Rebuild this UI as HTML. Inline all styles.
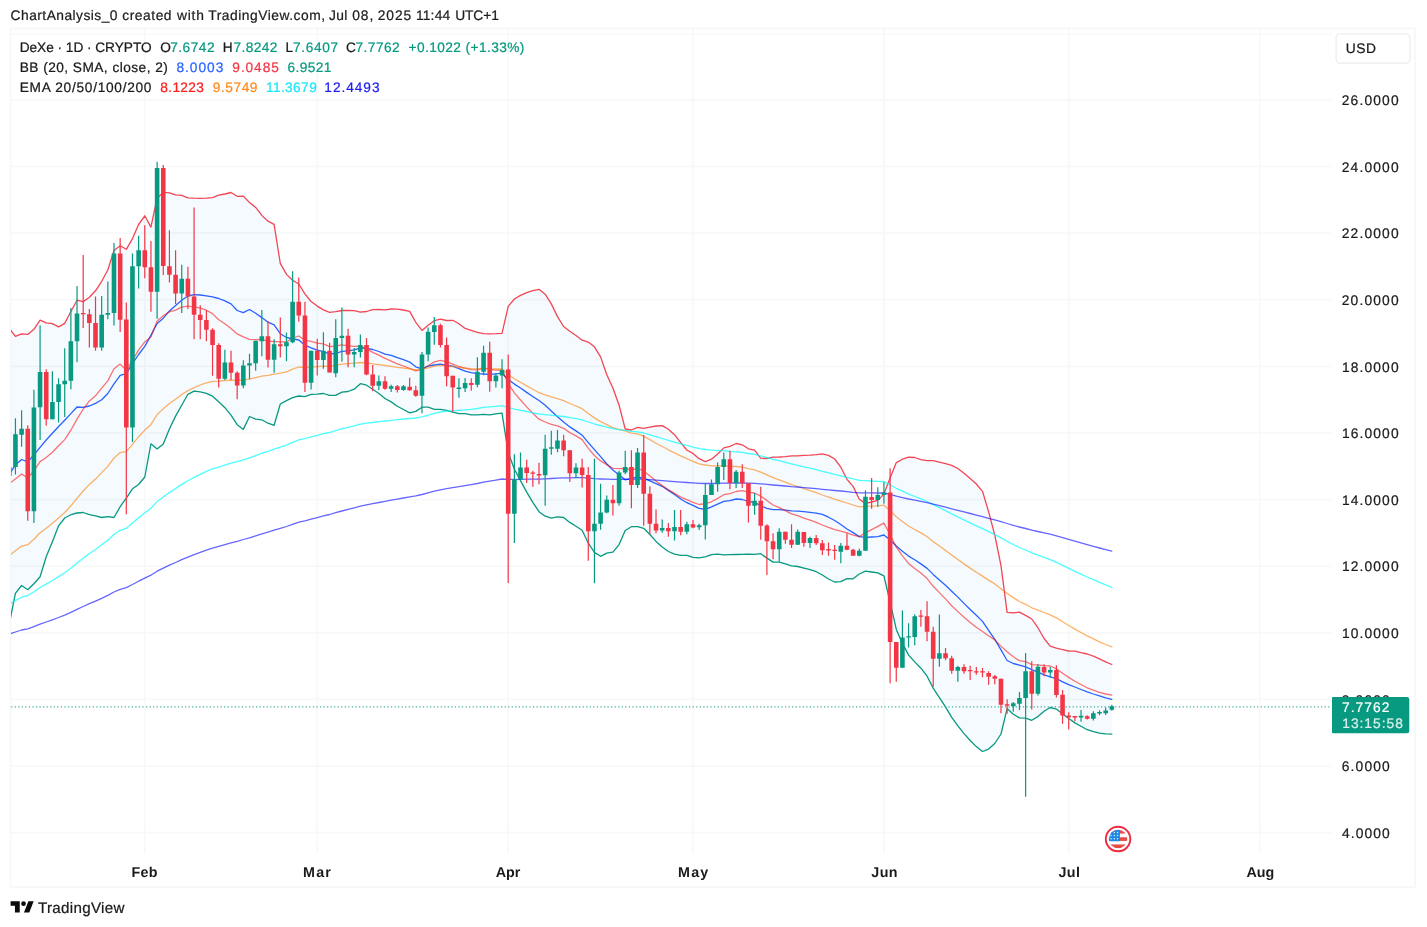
<!DOCTYPE html>
<html lang="en"><head><meta charset="utf-8"><title>DeXe 1D chart</title>
<style>
html,body{margin:0;padding:0;background:#fff}
body{width:1427px;height:927px;position:relative;overflow:hidden;font-family:"Liberation Sans",sans-serif;color:#131722;text-rendering:geometricPrecision}
.x span,.x b{position:absolute;white-space:nowrap;line-height:1;font-weight:normal;-webkit-text-stroke:0.22px currentColor}
.x b{font-weight:bold;-webkit-text-stroke:0}
</style></head><body>
<svg width="1427" height="927" viewBox="0 0 1427 927" style="position:absolute;left:0;top:0">
<defs><clipPath id="pc"><rect x="11.0" y="29.0" width="1320.0" height="824.5"/></clipPath></defs>
<path d="M10.5,832.72H1331.0M10.5,766.09H1331.0M10.5,699.46H1331.0M10.5,632.83H1331.0M10.5,566.21H1331.0M10.5,499.58H1331.0M10.5,432.95H1331.0M10.5,366.32H1331.0M10.5,299.69H1331.0M10.5,233.07H1331.0M10.5,166.44H1331.0M10.5,99.81H1331.0M10.5,34.00H1331.0M144.79,28.5V853.5M317.26,28.5V853.5M508.20,28.5V853.5M692.99,28.5V853.5M883.94,28.5V853.5M1068.72,28.5V853.5M1259.67,28.5V853.5" stroke="#2a2e39" stroke-opacity="0.035" stroke-width="1.7" fill="none"/>
<rect x="10.5" y="28.5" width="1404.5" height="858.5" fill="none" stroke="#2a2e39" stroke-opacity="0.032" stroke-width="1.9"/>
<g clip-path="url(#pc)">
<path d="M9.3,328.4 L15.4,336.4 L21.6,333.8 L27.8,334.4 L33.9,329.3 L40.1,320.2 L46.2,322.8 L52.4,323.6 L58.6,326.9 L64.7,323.4 L70.9,311.5 L77.0,300.2 L83.2,301.6 L89.4,297.3 L95.5,290.8 L101.7,281.3 L107.8,270.0 L114.0,250.4 L120.2,245.7 L126.3,249.3 L132.5,238.6 L138.6,224.5 L144.8,215.8 L150.9,227.1 L157.1,198.0 L163.3,192.4 L169.4,192.9 L175.6,194.9 L181.7,195.3 L187.9,197.8 L194.1,198.2 L200.2,198.3 L206.4,198.2 L212.5,197.6 L218.7,195.2 L224.9,194.0 L231.0,192.5 L237.2,196.3 L243.3,196.1 L249.5,202.5 L255.7,207.4 L261.8,215.4 L268.0,221.2 L274.1,224.3 L280.3,263.4 L286.5,274.4 L292.6,280.2 L298.8,284.0 L304.9,293.8 L311.1,301.5 L317.3,306.1 L323.4,309.9 L329.6,312.4 L335.7,311.6 L341.9,310.5 L348.1,310.4 L354.2,310.6 L360.4,312.1 L366.5,311.5 L372.7,309.6 L378.9,309.5 L385.0,309.8 L391.2,309.0 L397.3,309.2 L403.5,310.0 L409.7,311.4 L415.8,322.3 L422.0,330.4 L428.1,325.2 L434.3,320.7 L440.4,319.1 L446.6,320.5 L452.8,320.3 L458.9,323.8 L465.1,328.4 L471.2,330.3 L477.4,332.3 L483.6,333.7 L489.7,333.9 L495.9,333.7 L502.0,333.3 L508.2,306.4 L514.4,299.0 L520.5,295.4 L526.7,292.7 L532.8,290.7 L539.0,289.3 L545.2,294.2 L551.3,303.9 L557.5,316.6 L563.6,326.5 L569.8,331.3 L576.0,335.5 L582.1,340.2 L588.3,342.1 L594.4,346.8 L600.6,356.9 L606.8,374.8 L612.9,388.0 L619.1,405.2 L625.2,429.0 L631.4,430.0 L637.6,427.3 L643.7,428.3 L649.9,427.2 L656.0,426.0 L662.2,425.6 L668.4,429.3 L674.5,434.7 L680.7,442.6 L686.8,450.0 L693.0,453.4 L699.1,458.7 L705.3,461.6 L711.5,459.2 L717.6,454.0 L723.8,447.9 L729.9,446.4 L736.1,443.5 L742.3,444.8 L748.4,448.8 L754.6,450.1 L760.7,458.2 L766.9,458.5 L773.1,457.1 L779.2,457.0 L785.4,456.6 L791.5,455.9 L797.7,455.8 L803.9,455.3 L810.0,455.1 L816.2,454.6 L822.3,453.9 L828.5,455.4 L834.7,459.0 L840.8,467.2 L847.0,479.3 L853.1,486.4 L859.3,499.2 L865.5,503.4 L871.6,502.0 L877.8,500.4 L883.9,494.1 L890.1,478.0 L896.3,462.6 L902.4,459.2 L908.6,457.1 L914.7,457.5 L920.9,459.7 L927.1,460.6 L933.2,460.7 L939.4,462.2 L945.5,463.7 L951.7,465.4 L957.9,468.5 L964.0,473.2 L970.2,478.5 L976.3,484.0 L982.5,491.3 L988.6,511.7 L994.8,535.2 L1001.0,565.6 L1007.1,612.4 L1013.3,612.8 L1019.4,612.2 L1025.6,615.4 L1031.8,619.0 L1037.9,627.7 L1044.1,638.5 L1050.2,646.2 L1056.4,648.2 L1062.6,649.6 L1068.7,651.0 L1074.9,651.1 L1081.0,652.7 L1087.2,654.0 L1093.4,656.2 L1099.5,658.8 L1105.7,661.8 L1111.8,664.5 L1111.8,734.2 L1105.7,733.9 L1099.5,733.1 L1093.4,731.7 L1087.2,729.7 L1081.0,726.2 L1074.9,722.9 L1068.7,718.5 L1062.6,713.9 L1056.4,709.1 L1050.2,707.5 L1044.1,711.3 L1037.9,716.6 L1031.8,720.3 L1025.6,718.1 L1019.4,717.9 L1013.3,714.3 L1007.1,708.6 L1001.0,734.0 L994.8,743.5 L988.6,749.1 L982.5,751.5 L976.3,746.6 L970.2,740.5 L964.0,733.6 L957.9,725.8 L951.7,717.3 L945.5,706.9 L939.4,697.6 L933.2,688.1 L927.1,676.2 L920.9,668.2 L914.7,661.9 L908.6,655.1 L902.4,643.4 L896.3,629.4 L890.1,602.1 L883.9,575.9 L877.8,572.9 L871.6,572.0 L865.5,571.1 L859.3,574.0 L853.1,578.8 L847.0,578.7 L840.8,581.7 L834.7,582.0 L828.5,579.0 L822.3,575.0 L816.2,571.7 L810.0,569.7 L803.9,568.1 L797.7,566.5 L791.5,565.9 L785.4,563.9 L779.2,562.2 L773.1,562.1 L766.9,558.1 L760.7,553.7 L754.6,554.4 L748.4,554.2 L742.3,554.3 L736.1,554.5 L729.9,554.7 L723.8,554.9 L717.6,554.1 L711.5,554.6 L705.3,556.9 L699.1,557.8 L693.0,557.3 L686.8,555.4 L680.7,555.4 L674.5,554.1 L668.4,551.5 L662.2,547.0 L656.0,541.4 L649.9,534.5 L643.7,528.3 L637.6,526.6 L631.4,526.7 L625.2,530.5 L619.1,544.6 L612.9,552.2 L606.8,553.1 L600.6,556.3 L594.4,552.4 L588.3,543.2 L582.1,530.3 L576.0,526.2 L569.8,522.4 L563.6,517.5 L557.5,516.9 L551.3,518.1 L545.2,516.2 L539.0,511.7 L532.8,502.3 L526.7,492.1 L520.5,480.6 L514.4,469.3 L508.2,452.6 L502.0,413.2 L495.9,413.9 L489.7,414.8 L483.6,414.3 L477.4,414.9 L471.2,414.9 L465.1,413.7 L458.9,413.6 L452.8,412.1 L446.6,410.4 L440.4,409.3 L434.3,409.3 L428.1,407.2 L422.0,407.2 L415.8,411.4 L409.7,412.9 L403.5,409.5 L397.3,406.2 L391.2,401.9 L385.0,398.5 L378.9,393.5 L372.7,389.3 L366.5,385.2 L360.4,383.7 L354.2,389.2 L348.1,391.5 L341.9,392.2 L335.7,395.3 L329.6,395.3 L323.4,393.5 L317.3,394.2 L311.1,394.3 L304.9,396.6 L298.8,396.0 L292.6,397.6 L286.5,400.6 L280.3,404.0 L274.1,425.3 L268.0,423.2 L261.8,419.8 L255.7,419.1 L249.5,416.5 L243.3,429.4 L237.2,424.7 L231.0,415.2 L224.9,407.7 L218.7,401.8 L212.5,396.2 L206.4,393.4 L200.2,391.8 L194.1,391.2 L187.9,394.3 L181.7,405.2 L175.6,416.1 L169.4,429.0 L163.3,443.9 L157.1,448.9 L150.9,443.8 L144.8,477.0 L138.6,484.5 L132.5,488.8 L126.3,498.2 L120.2,506.7 L114.0,517.5 L107.8,516.7 L101.7,517.5 L95.5,515.8 L89.4,514.7 L83.2,512.5 L77.0,513.0 L70.9,514.7 L64.7,518.0 L58.6,525.8 L52.4,541.7 L46.2,556.7 L40.1,576.7 L33.9,583.7 L27.8,589.7 L21.6,585.5 L15.4,593.3 L9.3,624.0Z" fill="#2196f3" fill-opacity="0.05" stroke="none"/>
<path d="M9.3,474.4 L15.4,464.9 L21.6,459.5 L27.8,461.8 L33.9,454.9 L40.1,447.3 L46.2,440.0 L52.4,433.3 L58.6,426.5 L64.7,420.2 L70.9,413.6 L77.0,407.0 L83.2,407.3 L89.4,406.0 L95.5,403.4 L101.7,399.8 L107.8,393.5 L114.0,383.8 L120.2,375.3 L126.3,373.7 L132.5,363.7 L138.6,354.5 L144.8,346.4 L150.9,335.4 L157.1,323.5 L163.3,318.2 L169.4,310.9 L175.6,305.5 L181.7,300.2 L187.9,296.0 L194.1,294.7 L200.2,295.0 L206.4,295.8 L212.5,296.9 L218.7,298.5 L224.9,300.9 L231.0,303.9 L237.2,310.5 L243.3,312.7 L249.5,309.5 L255.7,313.3 L261.8,317.6 L268.0,322.2 L274.1,324.8 L280.3,333.7 L286.5,337.5 L292.6,338.9 L298.8,340.0 L304.9,345.2 L311.1,347.9 L317.3,350.2 L323.4,351.7 L329.6,353.8 L335.7,353.5 L341.9,351.4 L348.1,350.9 L354.2,349.9 L360.4,347.9 L366.5,348.3 L372.7,349.5 L378.9,351.5 L385.0,354.1 L391.2,355.4 L397.3,357.7 L403.5,359.7 L409.7,362.1 L415.8,366.8 L422.0,368.8 L428.1,366.2 L434.3,365.0 L440.4,364.2 L446.6,365.5 L452.8,366.2 L458.9,368.7 L465.1,371.1 L471.2,372.6 L477.4,373.6 L483.6,374.0 L489.7,374.3 L495.9,373.8 L502.0,373.2 L508.2,379.5 L514.4,384.1 L520.5,388.0 L526.7,392.4 L532.8,396.5 L539.0,400.5 L545.2,405.2 L551.3,411.0 L557.5,416.8 L563.6,422.0 L569.8,426.9 L576.0,430.9 L582.1,435.2 L588.3,442.6 L594.4,449.6 L600.6,456.6 L606.8,464.0 L612.9,470.1 L619.1,474.9 L625.2,479.8 L631.4,478.3 L637.6,477.0 L643.7,478.3 L649.9,480.8 L656.0,483.7 L662.2,486.3 L668.4,490.4 L674.5,494.4 L680.7,499.0 L686.8,502.7 L693.0,505.4 L699.1,508.3 L705.3,509.3 L711.5,506.9 L717.6,504.1 L723.8,501.4 L729.9,500.6 L736.1,499.0 L742.3,499.5 L748.4,501.5 L754.6,502.3 L760.7,505.9 L766.9,508.3 L773.1,509.6 L779.2,509.6 L785.4,510.2 L791.5,510.9 L797.7,511.1 L803.9,511.7 L810.0,512.4 L816.2,513.2 L822.3,514.4 L828.5,517.2 L834.7,520.5 L840.8,524.5 L847.0,529.0 L853.1,532.6 L859.3,536.6 L865.5,537.3 L871.6,537.0 L877.8,536.7 L883.9,535.0 L890.1,540.0 L896.3,546.0 L902.4,551.3 L908.6,556.1 L914.7,559.7 L920.9,563.9 L927.1,568.4 L933.2,574.4 L939.4,579.9 L945.5,585.3 L951.7,591.3 L957.9,597.1 L964.0,603.4 L970.2,609.5 L976.3,615.3 L982.5,621.4 L988.6,630.4 L994.8,639.3 L1001.0,649.8 L1007.1,660.5 L1013.3,663.5 L1019.4,665.1 L1025.6,666.8 L1031.8,669.6 L1037.9,672.1 L1044.1,674.9 L1050.2,676.9 L1056.4,678.7 L1062.6,681.8 L1068.7,684.7 L1074.9,687.0 L1081.0,689.5 L1087.2,691.9 L1093.4,694.0 L1099.5,695.9 L1105.7,697.8 L1111.8,699.3" fill="none" stroke="#2962ff" stroke-width="1.3" stroke-opacity="1" stroke-linejoin="round" stroke-linecap="round"/>
<path d="M9.3,328.4 L15.4,336.4 L21.6,333.8 L27.8,334.4 L33.9,329.3 L40.1,320.2 L46.2,322.8 L52.4,323.6 L58.6,326.9 L64.7,323.4 L70.9,311.5 L77.0,300.2 L83.2,301.6 L89.4,297.3 L95.5,290.8 L101.7,281.3 L107.8,270.0 L114.0,250.4 L120.2,245.7 L126.3,249.3 L132.5,238.6 L138.6,224.5 L144.8,215.8 L150.9,227.1 L157.1,198.0 L163.3,192.4 L169.4,192.9 L175.6,194.9 L181.7,195.3 L187.9,197.8 L194.1,198.2 L200.2,198.3 L206.4,198.2 L212.5,197.6 L218.7,195.2 L224.9,194.0 L231.0,192.5 L237.2,196.3 L243.3,196.1 L249.5,202.5 L255.7,207.4 L261.8,215.4 L268.0,221.2 L274.1,224.3 L280.3,263.4 L286.5,274.4 L292.6,280.2 L298.8,284.0 L304.9,293.8 L311.1,301.5 L317.3,306.1 L323.4,309.9 L329.6,312.4 L335.7,311.6 L341.9,310.5 L348.1,310.4 L354.2,310.6 L360.4,312.1 L366.5,311.5 L372.7,309.6 L378.9,309.5 L385.0,309.8 L391.2,309.0 L397.3,309.2 L403.5,310.0 L409.7,311.4 L415.8,322.3 L422.0,330.4 L428.1,325.2 L434.3,320.7 L440.4,319.1 L446.6,320.5 L452.8,320.3 L458.9,323.8 L465.1,328.4 L471.2,330.3 L477.4,332.3 L483.6,333.7 L489.7,333.9 L495.9,333.7 L502.0,333.3 L508.2,306.4 L514.4,299.0 L520.5,295.4 L526.7,292.7 L532.8,290.7 L539.0,289.3 L545.2,294.2 L551.3,303.9 L557.5,316.6 L563.6,326.5 L569.8,331.3 L576.0,335.5 L582.1,340.2 L588.3,342.1 L594.4,346.8 L600.6,356.9 L606.8,374.8 L612.9,388.0 L619.1,405.2 L625.2,429.0 L631.4,430.0 L637.6,427.3 L643.7,428.3 L649.9,427.2 L656.0,426.0 L662.2,425.6 L668.4,429.3 L674.5,434.7 L680.7,442.6 L686.8,450.0 L693.0,453.4 L699.1,458.7 L705.3,461.6 L711.5,459.2 L717.6,454.0 L723.8,447.9 L729.9,446.4 L736.1,443.5 L742.3,444.8 L748.4,448.8 L754.6,450.1 L760.7,458.2 L766.9,458.5 L773.1,457.1 L779.2,457.0 L785.4,456.6 L791.5,455.9 L797.7,455.8 L803.9,455.3 L810.0,455.1 L816.2,454.6 L822.3,453.9 L828.5,455.4 L834.7,459.0 L840.8,467.2 L847.0,479.3 L853.1,486.4 L859.3,499.2 L865.5,503.4 L871.6,502.0 L877.8,500.4 L883.9,494.1 L890.1,478.0 L896.3,462.6 L902.4,459.2 L908.6,457.1 L914.7,457.5 L920.9,459.7 L927.1,460.6 L933.2,460.7 L939.4,462.2 L945.5,463.7 L951.7,465.4 L957.9,468.5 L964.0,473.2 L970.2,478.5 L976.3,484.0 L982.5,491.3 L988.6,511.7 L994.8,535.2 L1001.0,565.6 L1007.1,612.4 L1013.3,612.8 L1019.4,612.2 L1025.6,615.4 L1031.8,619.0 L1037.9,627.7 L1044.1,638.5 L1050.2,646.2 L1056.4,648.2 L1062.6,649.6 L1068.7,651.0 L1074.9,651.1 L1081.0,652.7 L1087.2,654.0 L1093.4,656.2 L1099.5,658.8 L1105.7,661.8 L1111.8,664.5" fill="none" stroke="#f23645" stroke-width="1.3" stroke-opacity="0.92" stroke-linejoin="round" stroke-linecap="round"/>
<path d="M9.3,624.0 L15.4,593.3 L21.6,585.5 L27.8,589.7 L33.9,583.7 L40.1,576.7 L46.2,556.7 L52.4,541.7 L58.6,525.8 L64.7,518.0 L70.9,514.7 L77.0,513.0 L83.2,512.5 L89.4,514.7 L95.5,515.8 L101.7,517.5 L107.8,516.7 L114.0,517.5 L120.2,506.7 L126.3,498.2 L132.5,488.8 L138.6,484.5 L144.8,477.0 L150.9,443.8 L157.1,448.9 L163.3,443.9 L169.4,429.0 L175.6,416.1 L181.7,405.2 L187.9,394.3 L194.1,391.2 L200.2,391.8 L206.4,393.4 L212.5,396.2 L218.7,401.8 L224.9,407.7 L231.0,415.2 L237.2,424.7 L243.3,429.4 L249.5,416.5 L255.7,419.1 L261.8,419.8 L268.0,423.2 L274.1,425.3 L280.3,404.0 L286.5,400.6 L292.6,397.6 L298.8,396.0 L304.9,396.6 L311.1,394.3 L317.3,394.2 L323.4,393.5 L329.6,395.3 L335.7,395.3 L341.9,392.2 L348.1,391.5 L354.2,389.2 L360.4,383.7 L366.5,385.2 L372.7,389.3 L378.9,393.5 L385.0,398.5 L391.2,401.9 L397.3,406.2 L403.5,409.5 L409.7,412.9 L415.8,411.4 L422.0,407.2 L428.1,407.2 L434.3,409.3 L440.4,409.3 L446.6,410.4 L452.8,412.1 L458.9,413.6 L465.1,413.7 L471.2,414.9 L477.4,414.9 L483.6,414.3 L489.7,414.8 L495.9,413.9 L502.0,413.2 L508.2,452.6 L514.4,469.3 L520.5,480.6 L526.7,492.1 L532.8,502.3 L539.0,511.7 L545.2,516.2 L551.3,518.1 L557.5,516.9 L563.6,517.5 L569.8,522.4 L576.0,526.2 L582.1,530.3 L588.3,543.2 L594.4,552.4 L600.6,556.3 L606.8,553.1 L612.9,552.2 L619.1,544.6 L625.2,530.5 L631.4,526.7 L637.6,526.6 L643.7,528.3 L649.9,534.5 L656.0,541.4 L662.2,547.0 L668.4,551.5 L674.5,554.1 L680.7,555.4 L686.8,555.4 L693.0,557.3 L699.1,557.8 L705.3,556.9 L711.5,554.6 L717.6,554.1 L723.8,554.9 L729.9,554.7 L736.1,554.5 L742.3,554.3 L748.4,554.2 L754.6,554.4 L760.7,553.7 L766.9,558.1 L773.1,562.1 L779.2,562.2 L785.4,563.9 L791.5,565.9 L797.7,566.5 L803.9,568.1 L810.0,569.7 L816.2,571.7 L822.3,575.0 L828.5,579.0 L834.7,582.0 L840.8,581.7 L847.0,578.7 L853.1,578.8 L859.3,574.0 L865.5,571.1 L871.6,572.0 L877.8,572.9 L883.9,575.9 L890.1,602.1 L896.3,629.4 L902.4,643.4 L908.6,655.1 L914.7,661.9 L920.9,668.2 L927.1,676.2 L933.2,688.1 L939.4,697.6 L945.5,706.9 L951.7,717.3 L957.9,725.8 L964.0,733.6 L970.2,740.5 L976.3,746.6 L982.5,751.5 L988.6,749.1 L994.8,743.5 L1001.0,734.0 L1007.1,708.6 L1013.3,714.3 L1019.4,717.9 L1025.6,718.1 L1031.8,720.3 L1037.9,716.6 L1044.1,711.3 L1050.2,707.5 L1056.4,709.1 L1062.6,713.9 L1068.7,718.5 L1074.9,722.9 L1081.0,726.2 L1087.2,729.7 L1093.4,731.7 L1099.5,733.1 L1105.7,733.9 L1111.8,734.2" fill="none" stroke="#089981" stroke-width="1.3" stroke-opacity="1" stroke-linejoin="round" stroke-linecap="round"/>
<path d="M9.3,483.6 L15.4,478.9 L21.6,474.1 L27.8,477.7 L33.9,471.0 L40.1,461.6 L46.2,457.5 L52.4,452.2 L58.6,445.8 L64.7,439.6 L70.9,430.2 L77.0,419.1 L83.2,409.1 L89.4,400.9 L95.5,395.8 L101.7,388.1 L107.8,380.9 L114.0,368.8 L120.2,364.1 L126.3,370.2 L132.5,360.3 L138.6,349.8 L144.8,341.9 L150.9,337.1 L157.1,321.0 L163.3,315.8 L169.4,311.9 L175.6,310.1 L181.7,307.1 L187.9,306.1 L194.1,306.9 L200.2,308.2 L206.4,310.2 L212.5,313.6 L218.7,319.8 L224.9,323.8 L231.0,328.5 L237.2,333.9 L243.3,336.9 L249.5,339.4 L255.7,339.6 L261.8,339.3 L268.0,341.2 L274.1,341.5 L280.3,341.9 L286.5,342.0 L292.6,338.1 L298.8,336.0 L304.9,340.4 L311.1,341.4 L317.3,343.2 L323.4,343.9 L329.6,346.6 L335.7,345.8 L341.9,344.9 L348.1,345.8 L354.2,346.4 L360.4,346.2 L366.5,348.9 L372.7,352.4 L378.9,355.2 L385.0,358.4 L391.2,361.1 L397.3,363.8 L403.5,366.0 L409.7,368.3 L415.8,370.9 L422.0,369.3 L428.1,365.7 L434.3,361.9 L440.4,360.3 L446.6,361.8 L452.8,364.2 L458.9,366.5 L465.1,368.1 L471.2,369.7 L477.4,369.9 L483.6,368.2 L489.7,369.5 L495.9,370.1 L502.0,370.1 L508.2,383.7 L514.4,392.9 L520.5,400.0 L526.7,406.9 L532.8,413.3 L539.0,419.2 L545.2,422.0 L551.3,424.4 L557.5,425.9 L563.6,428.3 L569.8,432.6 L576.0,435.9 L582.1,439.6 L588.3,448.3 L594.4,455.5 L600.6,460.9 L606.8,464.6 L612.9,468.3 L619.1,468.7 L625.2,468.5 L631.4,470.1 L637.6,468.4 L643.7,470.9 L649.9,475.9 L656.0,481.1 L662.2,485.6 L668.4,489.9 L674.5,493.4 L680.7,497.1 L686.8,499.7 L693.0,502.3 L699.1,504.5 L705.3,503.6 L711.5,501.8 L717.6,498.4 L723.8,494.7 L729.9,493.6 L736.1,491.5 L742.3,490.7 L748.4,492.2 L754.6,493.0 L760.7,496.1 L766.9,500.4 L773.1,505.0 L779.2,507.6 L785.4,510.6 L791.5,513.9 L797.7,515.6 L803.9,518.2 L810.0,520.1 L816.2,522.3 L822.3,525.0 L828.5,527.4 L834.7,529.6 L840.8,531.1 L847.0,532.9 L853.1,535.1 L859.3,536.6 L865.5,532.8 L871.6,529.7 L877.8,526.4 L883.9,523.1 L890.1,534.5 L896.3,547.2 L902.4,555.8 L908.6,563.4 L914.7,568.5 L920.9,573.0 L927.1,578.6 L933.2,586.3 L939.4,592.6 L945.5,598.9 L951.7,605.7 L957.9,611.6 L964.0,617.3 L970.2,622.4 L976.3,627.2 L982.5,631.5 L988.6,635.8 L994.8,639.9 L1001.0,646.1 L1007.1,651.8 L1013.3,656.7 L1019.4,660.6 L1025.6,661.6 L1031.8,664.7 L1037.9,664.9 L1044.1,665.6 L1050.2,666.0 L1056.4,668.8 L1062.6,673.2 L1068.7,677.4 L1074.9,681.2 L1081.0,684.5 L1087.2,687.8 L1093.4,690.2 L1099.5,692.3 L1105.7,694.0 L1111.8,695.2" fill="none" stroke="#ff0000" stroke-width="1.3" stroke-opacity="0.55" stroke-linejoin="round" stroke-linecap="round"/>
<path d="M9.3,555.6 L15.4,550.8 L21.6,546.1 L27.8,544.7 L33.9,539.3 L40.1,532.7 L46.2,528.3 L52.4,523.3 L58.6,517.9 L64.7,512.5 L70.9,505.8 L77.0,498.3 L83.2,491.0 L89.4,484.4 L95.5,479.1 L101.7,472.6 L107.8,466.4 L114.0,458.0 L120.2,452.6 L126.3,451.6 L132.5,444.3 L138.6,436.7 L144.8,430.1 L150.9,424.7 L157.1,414.6 L163.3,408.8 L169.4,403.5 L175.6,399.2 L181.7,394.5 L187.9,390.6 L194.1,387.7 L200.2,385.0 L206.4,382.8 L212.5,381.3 L218.7,381.2 L224.9,380.5 L231.0,380.2 L237.2,380.4 L243.3,379.8 L249.5,379.2 L255.7,377.7 L261.8,376.1 L268.0,375.4 L274.1,374.2 L280.3,373.1 L286.5,371.9 L292.6,369.1 L298.8,367.0 L304.9,367.6 L311.1,367.0 L317.3,366.7 L323.4,366.1 L329.6,366.3 L335.7,365.2 L341.9,364.1 L348.1,363.7 L354.2,363.2 L360.4,362.5 L366.5,363.0 L372.7,363.9 L378.9,364.6 L385.0,365.5 L391.2,366.3 L397.3,367.3 L403.5,368.0 L409.7,368.9 L415.8,369.9 L422.0,369.3 L428.1,367.9 L434.3,366.2 L440.4,365.4 L446.6,365.8 L452.8,366.6 L458.9,367.5 L465.1,368.1 L471.2,368.7 L477.4,368.9 L483.6,368.2 L489.7,368.7 L495.9,369.0 L502.0,369.0 L508.2,374.7 L514.4,378.8 L520.5,382.3 L526.7,385.9 L532.8,389.3 L539.0,392.7 L545.2,394.9 L551.3,396.9 L557.5,398.6 L563.6,400.7 L569.8,403.5 L576.0,406.0 L582.1,408.7 L588.3,413.5 L594.4,417.9 L600.6,421.6 L606.8,424.6 L612.9,427.7 L619.1,429.5 L625.2,430.9 L631.4,433.1 L637.6,433.8 L643.7,436.2 L649.9,439.6 L656.0,443.2 L662.2,446.5 L668.4,449.8 L674.5,452.8 L680.7,455.9 L686.8,458.6 L693.0,461.3 L699.1,463.8 L705.3,465.0 L711.5,465.8 L717.6,465.8 L723.8,465.6 L729.9,466.3 L736.1,466.5 L742.3,467.1 L748.4,468.7 L754.6,469.9 L760.7,472.1 L766.9,474.8 L773.1,477.7 L779.2,479.9 L785.4,482.2 L791.5,484.7 L797.7,486.5 L803.9,488.7 L810.0,490.6 L816.2,492.7 L822.3,495.0 L828.5,497.1 L834.7,499.2 L840.8,501.1 L847.0,503.0 L853.1,505.0 L859.3,506.8 L865.5,506.4 L871.6,506.2 L877.8,505.8 L883.9,505.2 L890.1,510.6 L896.3,516.8 L902.4,521.5 L908.6,526.0 L914.7,529.5 L920.9,532.9 L927.1,536.8 L933.2,541.6 L939.4,546.0 L945.5,550.4 L951.7,555.1 L957.9,559.5 L964.0,563.9 L970.2,568.1 L976.3,572.2 L982.5,576.1 L988.6,580.1 L994.8,583.9 L1001.0,588.7 L1007.1,593.3 L1013.3,597.6 L1019.4,601.5 L1025.6,604.3 L1031.8,607.8 L1037.9,610.1 L1044.1,612.5 L1050.2,614.8 L1056.4,617.9 L1062.6,621.7 L1068.7,625.5 L1074.9,629.1 L1081.0,632.5 L1087.2,635.9 L1093.4,638.9 L1099.5,641.8 L1105.7,644.5 L1111.8,646.9" fill="none" stroke="#ff7f00" stroke-width="1.3" stroke-opacity="0.6" stroke-linejoin="round" stroke-linecap="round"/>
<path d="M9.3,604.0 L15.4,600.6 L21.6,597.2 L27.8,595.5 L33.9,591.8 L40.1,587.5 L46.2,584.1 L52.4,580.5 L58.6,576.6 L64.7,572.8 L70.9,568.2 L77.0,563.1 L83.2,558.2 L89.4,553.5 L95.5,549.5 L101.7,544.8 L107.8,540.2 L114.0,534.5 L120.2,530.3 L126.3,528.3 L132.5,523.1 L138.6,517.7 L144.8,512.7 L150.9,508.3 L157.1,501.6 L163.3,496.9 L169.4,492.5 L175.6,488.6 L181.7,484.4 L187.9,480.7 L194.1,477.4 L200.2,474.3 L206.4,471.4 L212.5,468.9 L218.7,467.1 L224.9,465.1 L231.0,463.2 L237.2,461.7 L243.3,459.8 L249.5,457.9 L255.7,455.6 L261.8,453.2 L268.0,451.4 L274.1,449.2 L280.3,447.2 L286.5,445.1 L292.6,442.3 L298.8,439.8 L304.9,438.6 L311.1,436.9 L317.3,435.4 L323.4,433.7 L329.6,432.5 L335.7,430.6 L341.9,428.7 L348.1,427.3 L354.2,425.8 L360.4,424.2 L366.5,423.2 L372.7,422.5 L378.9,421.6 L385.0,421.0 L391.2,420.3 L397.3,419.7 L403.5,419.0 L409.7,418.5 L415.8,418.0 L422.0,416.8 L428.1,415.1 L434.3,413.3 L440.4,412.0 L446.6,411.2 L452.8,410.8 L458.9,410.3 L465.1,409.8 L471.2,409.3 L477.4,408.5 L483.6,407.4 L489.7,406.9 L495.9,406.3 L502.0,405.6 L508.2,407.7 L514.4,409.1 L520.5,410.3 L526.7,411.5 L532.8,412.8 L539.0,414.0 L545.2,414.7 L551.3,415.3 L557.5,415.8 L563.6,416.5 L569.8,417.6 L576.0,418.6 L582.1,419.8 L588.3,422.0 L594.4,424.0 L600.6,425.7 L606.8,427.2 L612.9,428.7 L619.1,429.6 L625.2,430.3 L631.4,431.4 L637.6,431.8 L643.7,433.0 L649.9,434.8 L656.0,436.7 L662.2,438.5 L668.4,440.4 L674.5,442.1 L680.7,443.9 L686.8,445.4 L693.0,447.1 L699.1,448.6 L705.3,449.5 L711.5,450.2 L717.6,450.6 L723.8,450.7 L729.9,451.4 L736.1,451.8 L742.3,452.4 L748.4,453.5 L754.6,454.4 L760.7,455.8 L766.9,457.5 L773.1,459.3 L779.2,460.7 L785.4,462.3 L791.5,463.9 L797.7,465.3 L803.9,466.8 L810.0,468.2 L816.2,469.7 L822.3,471.3 L828.5,472.9 L834.7,474.4 L840.8,475.8 L847.0,477.3 L853.1,478.9 L859.3,480.3 L865.5,480.6 L871.6,481.0 L877.8,481.3 L883.9,481.5 L890.1,484.7 L896.3,488.3 L902.4,491.2 L908.6,494.1 L914.7,496.5 L920.9,498.9 L927.1,501.5 L933.2,504.7 L939.4,507.6 L945.5,510.6 L951.7,513.8 L957.9,516.8 L964.0,519.8 L970.2,522.8 L976.3,525.8 L982.5,528.7 L988.6,531.6 L994.8,534.6 L1001.0,537.9 L1007.1,541.3 L1013.3,544.5 L1019.4,547.5 L1025.6,550.0 L1031.8,552.8 L1037.9,555.1 L1044.1,557.4 L1050.2,559.6 L1056.4,562.3 L1062.6,565.3 L1068.7,568.3 L1074.9,571.3 L1081.0,574.1 L1087.2,577.0 L1093.4,579.7 L1099.5,582.3 L1105.7,584.9 L1111.8,587.3" fill="none" stroke="#00ffff" stroke-width="1.3" stroke-opacity="0.7" stroke-linejoin="round" stroke-linecap="round"/>
<path d="M9.3,634.0 L15.4,632.0 L21.6,630.0 L27.8,628.8 L33.9,626.6 L40.1,624.1 L46.2,622.0 L52.4,619.8 L58.6,617.5 L64.7,615.1 L70.9,612.4 L77.0,609.4 L83.2,606.5 L89.4,603.7 L95.5,601.1 L101.7,598.3 L107.8,595.4 L114.0,592.0 L120.2,589.3 L126.3,587.7 L132.5,584.5 L138.6,581.2 L144.8,578.1 L150.9,575.2 L157.1,571.2 L163.3,568.1 L169.4,565.2 L175.6,562.5 L181.7,559.7 L187.9,557.1 L194.1,554.7 L200.2,552.3 L206.4,550.1 L212.5,548.1 L218.7,546.4 L224.9,544.6 L231.0,542.8 L237.2,541.3 L243.3,539.5 L249.5,537.8 L255.7,535.8 L261.8,533.8 L268.0,532.1 L274.1,530.2 L280.3,528.4 L286.5,526.5 L292.6,524.3 L298.8,522.2 L304.9,520.8 L311.1,519.2 L317.3,517.6 L323.4,515.9 L329.6,514.5 L335.7,512.7 L341.9,511.0 L348.1,509.4 L354.2,507.8 L360.4,506.2 L366.5,504.9 L372.7,503.7 L378.9,502.5 L385.0,501.4 L391.2,500.2 L397.3,499.1 L403.5,498.0 L409.7,496.9 L415.8,495.9 L422.0,494.5 L428.1,492.9 L434.3,491.2 L440.4,489.8 L446.6,488.7 L452.8,487.6 L458.9,486.7 L465.1,485.6 L471.2,484.6 L477.4,483.5 L483.6,482.2 L489.7,481.2 L495.9,480.1 L502.0,479.0 L508.2,479.4 L514.4,479.4 L520.5,479.3 L526.7,479.2 L532.8,479.2 L539.0,479.1 L545.2,478.8 L551.3,478.5 L557.5,478.1 L563.6,477.8 L569.8,477.8 L576.0,477.7 L582.1,477.7 L588.3,478.2 L594.4,478.7 L600.6,479.0 L606.8,479.2 L612.9,479.4 L619.1,479.4 L625.2,479.2 L631.4,479.3 L637.6,479.0 L643.7,479.2 L649.9,479.6 L656.0,480.1 L662.2,480.6 L668.4,481.1 L674.5,481.6 L680.7,482.1 L686.8,482.5 L693.0,482.9 L699.1,483.4 L705.3,483.5 L711.5,483.5 L717.6,483.3 L723.8,483.1 L729.9,483.1 L736.1,483.0 L742.3,483.0 L748.4,483.2 L754.6,483.4 L760.7,483.8 L766.9,484.4 L773.1,485.0 L779.2,485.5 L785.4,486.0 L791.5,486.6 L797.7,487.0 L803.9,487.6 L810.0,488.1 L816.2,488.7 L822.3,489.3 L828.5,489.9 L834.7,490.5 L840.8,491.0 L847.0,491.6 L853.1,492.3 L859.3,492.8 L865.5,492.9 L871.6,492.9 L877.8,493.0 L883.9,493.0 L890.1,494.4 L896.3,496.2 L902.4,497.6 L908.6,499.0 L914.7,500.1 L920.9,501.3 L927.1,502.6 L933.2,504.1 L939.4,505.6 L945.5,507.1 L951.7,508.8 L957.9,510.3 L964.0,511.9 L970.2,513.5 L976.3,515.1 L982.5,516.7 L988.6,518.3 L994.8,519.9 L1001.0,521.7 L1007.1,523.5 L1013.3,525.3 L1019.4,527.0 L1025.6,528.5 L1031.8,530.1 L1037.9,531.5 L1044.1,532.9 L1050.2,534.2 L1056.4,535.8 L1062.6,537.6 L1068.7,539.4 L1074.9,541.2 L1081.0,542.9 L1087.2,544.7 L1093.4,546.4 L1099.5,548.0 L1105.7,549.6 L1111.8,551.2" fill="none" stroke="#0000ff" stroke-width="1.3" stroke-opacity="0.6" stroke-linejoin="round" stroke-linecap="round"/>
<path d="M10.5,706.92H1333" stroke="#089981" stroke-opacity="0.8" stroke-width="1.25" stroke-dasharray="1.2 2.35" stroke-dashoffset="-0.6" fill="none"/>
<path d="M9.28,466.0V478.0M15.44,418.3V474.5M21.60,410.3V446.7M33.92,389.7V523.0M40.08,325.6V440.0M52.40,371.3V419.2M58.56,378.3V422.5M64.72,348.3V417.0M70.88,307.9V389.2M77.03,285.9V362.2M101.67,296.0V350.8M107.83,281.4V319.2M113.99,243.0V325.6M132.47,253.4V442.0M138.63,235.7V288.4M157.11,161.8V318.7M181.75,264.8V313.0M224.86,349.7V380.0M243.34,360.3V388.3M249.50,353.7V379.2M255.66,340.8V370.8M261.82,310.0V356.3M274.14,339.2V372.8M286.46,332.5V361.2M292.62,271.3V343.3M311.10,350.8V389.5M323.42,332.2V368.8M335.74,319.2V377.2M341.90,307.5V361.7M354.21,348.0V367.2M360.37,334.5V357.5M378.85,375.5V390.0M391.17,384.7V392.0M403.49,385.0V390.8M421.97,352.0V413.3M428.13,327.5V361.3M434.29,317.0V344.7M458.93,378.3V397.8M465.09,378.0V392.0M477.41,357.2V387.2M483.57,345.8V375.3M495.88,373.3V387.5M502.04,359.2V388.3M514.36,454.2V543.0M520.52,452.5V479.5M545.16,434.7V505.8M551.32,430.8V454.7M557.48,430.0V452.2M575.96,463.3V478.3M594.44,458.7V583.3M600.60,483.7V529.7M606.76,495.5V513.3M619.08,470.8V505.8M625.23,450.8V474.2M637.55,448.0V488.0M662.19,519.5V532.8M674.51,510.0V540.5M686.83,521.7V534.2M699.15,523.7V530.0M705.31,483.3V539.5M711.47,479.5V495.0M717.63,462.5V491.7M723.79,452.5V480.0M736.11,470.0V488.0M754.59,493.0V514.7M779.22,528.3V561.7M797.70,529.5V544.7M810.02,536.7V548.0M840.82,543.0V563.3M859.30,548.7V556.3M865.46,490.3V550.8M877.78,487.2V506.7M883.94,482.0V503.7M902.41,610.5V667.8M908.57,623.3V647.5M914.73,614.2V645.3M939.37,614.5V666.7M957.85,665.8V681.7M1013.29,702.0V711.7M1019.45,692.0V710.0M1025.61,653.0V796.7M1037.92,664.2V695.5M1050.24,667.0V677.8M1081.04,710.0V721.7M1093.36,711.2V720.5M1099.52,710.3V715.3M1105.68,707.5V715.0M1111.84,704.7V710.8" stroke="#089981" stroke-width="1.2" fill="none"/>
<path d="M27.76,425.3V520.8M46.24,369.2V425.8M83.19,255.1V328.1M89.35,309.1V347.5M95.51,296.5V350.8M120.15,238.0V331.9M126.31,302.6V514.2M144.79,225.2V278.3M150.95,240.9V311.7M163.27,165.0V275.0M169.43,230.3V282.5M175.59,250.2V304.0M187.91,266.8V309.0M194.07,207.6V339.3M200.23,305.3V339.2M206.39,310.0V341.3M212.55,328.3V375.8M218.70,343.3V387.5M231.02,350.8V380.0M237.18,371.3V399.2M267.98,321.3V367.5M280.30,317.5V357.5M298.78,277.6V321.7M304.94,301.7V392.0M317.26,338.7V375.5M329.58,342.8V372.5M348.06,328.7V367.2M366.53,338.0V375.3M372.69,365.0V391.3M385.01,376.3V389.7M397.33,385.0V392.5M409.65,377.8V390.8M415.81,385.8V396.7M440.45,323.7V347.5M446.61,337.5V386.2M452.77,375.8V412.0M471.25,378.3V390.8M489.72,341.7V391.7M508.20,354.5V583.1M526.68,459.7V483.0M532.84,470.8V486.7M539.00,462.8V484.2M563.64,434.7V456.3M569.80,450.3V482.0M582.12,458.7V487.5M588.28,467.0V560.8M612.92,485.0V515.5M631.39,450.3V508.3M643.71,435.0V525.8M649.87,486.3V534.7M656.03,509.5V533.3M668.35,523.0V536.7M680.67,510.0V535.3M692.99,520.0V528.3M729.95,450.8V489.2M742.27,464.2V488.0M748.43,483.3V522.5M760.75,486.7V539.7M766.90,524.2V575.0M773.06,533.3V559.2M785.38,531.7V543.7M791.54,524.2V548.0M803.86,532.0V546.7M816.18,535.0V545.0M822.34,540.0V555.0M828.50,542.5V555.8M834.66,545.0V559.7M846.98,533.3V550.3M853.14,548.7V555.8M871.62,478.0V508.7M890.10,468.3V683.3M896.26,642.0V681.7M920.89,610.0V626.7M927.05,601.2V641.3M933.21,626.7V686.7M945.53,648.0V660.3M951.69,655.8V673.7M964.01,664.2V673.7M970.17,665.8V680.0M976.33,667.0V674.7M982.49,668.0V677.2M988.65,671.3V684.7M994.81,675.0V684.2M1000.97,678.8V713.3M1007.13,699.2V713.7M1031.77,661.3V709.5M1044.08,664.2V676.3M1056.40,665.3V697.5M1062.56,690.0V723.7M1068.72,712.2V729.5M1074.88,716.3V721.3M1087.20,715.3V719.5" stroke="#F23645" stroke-width="1.2" fill="none"/>
<path d="M6.98,467.0h4.6V476.0h-4.6ZM13.14,434.2h4.6V467.0h-4.6ZM19.30,428.8h4.6V434.7h-4.6ZM31.62,407.5h4.6V511.3h-4.6ZM37.78,372.0h4.6V407.2h-4.6ZM50.10,402.0h4.6V419.2h-4.6ZM56.26,384.2h4.6V402.0h-4.6ZM62.42,380.8h4.6V384.2h-4.6ZM68.58,341.3h4.6V380.8h-4.6ZM74.73,313.4h4.6V341.2h-4.6ZM99.37,314.7h4.6V347.5h-4.6ZM105.53,312.9h4.6V314.7h-4.6ZM111.69,253.5h4.6V312.9h-4.6ZM130.17,266.2h4.6V427.5h-4.6ZM136.33,250.2h4.6V266.2h-4.6ZM154.81,167.9h4.6V291.8h-4.6ZM179.45,278.8h4.6V293.4h-4.6ZM222.56,362.5h4.6V378.7h-4.6ZM241.04,365.5h4.6V385.5h-4.6ZM247.20,363.3h4.6V365.5h-4.6ZM253.36,340.8h4.6V363.3h-4.6ZM259.52,336.3h4.6V341.2h-4.6ZM271.84,344.2h4.6V359.7h-4.6ZM284.16,342.2h4.6V346.3h-4.6ZM290.32,301.7h4.6V342.2h-4.6ZM308.80,350.8h4.6V382.8h-4.6ZM321.12,350.8h4.6V360.0h-4.6ZM333.44,338.0h4.6V373.3h-4.6ZM339.60,335.8h4.6V338.0h-4.6ZM351.91,352.0h4.6V354.5h-4.6ZM358.07,345.0h4.6V352.0h-4.6ZM376.55,381.3h4.6V385.8h-4.6ZM388.87,386.3h4.6V388.8h-4.6ZM401.19,386.3h4.6V390.0h-4.6ZM419.67,354.5h4.6V395.8h-4.6ZM425.83,331.7h4.6V354.5h-4.6ZM431.99,325.3h4.6V332.0h-4.6ZM456.63,387.6h4.6V388.9h-4.6ZM462.79,383.0h4.6V388.3h-4.6ZM475.11,371.7h4.6V384.7h-4.6ZM481.27,352.8h4.6V371.7h-4.6ZM493.58,375.5h4.6V381.3h-4.6ZM499.74,370.0h4.6V375.5h-4.6ZM512.06,479.5h4.6V513.8h-4.6ZM518.22,467.5h4.6V479.5h-4.6ZM542.86,448.8h4.6V475.3h-4.6ZM549.02,447.2h4.6V448.8h-4.6ZM555.18,440.5h4.6V448.8h-4.6ZM573.66,467.5h4.6V473.3h-4.6ZM592.14,523.7h4.6V531.2h-4.6ZM598.30,512.5h4.6V523.7h-4.6ZM604.46,499.7h4.6V512.5h-4.6ZM616.78,472.5h4.6V503.3h-4.6ZM622.93,467.0h4.6V472.5h-4.6ZM635.25,452.5h4.6V485.0h-4.6ZM659.89,528.0h4.6V530.5h-4.6ZM672.21,527.0h4.6V531.2h-4.6ZM684.53,524.2h4.6V531.7h-4.6ZM696.85,525.3h4.6V527.2h-4.6ZM703.01,495.0h4.6V525.3h-4.6ZM709.17,484.2h4.6V495.0h-4.6ZM715.33,467.0h4.6V484.2h-4.6ZM721.49,459.2h4.6V467.0h-4.6ZM733.81,471.7h4.6V483.0h-4.6ZM752.29,500.8h4.6V505.8h-4.6ZM776.92,531.7h4.6V549.2h-4.6ZM795.40,531.7h4.6V544.7h-4.6ZM807.72,538.0h4.6V543.0h-4.6ZM838.52,545.8h4.6V551.7h-4.6ZM857.00,550.8h4.6V555.8h-4.6ZM863.16,496.7h4.6V550.8h-4.6ZM875.48,495.0h4.6V500.0h-4.6ZM881.64,492.5h4.6V495.0h-4.6ZM900.11,637.5h4.6V667.8h-4.6ZM906.27,636.2h4.6V637.5h-4.6ZM912.43,616.2h4.6V637.0h-4.6ZM937.07,653.3h4.6V658.7h-4.6ZM955.55,667.0h4.6V670.8h-4.6ZM1010.99,703.3h4.6V706.2h-4.6ZM1017.15,698.0h4.6V703.7h-4.6ZM1023.31,671.3h4.6V698.0h-4.6ZM1035.62,666.7h4.6V693.7h-4.6ZM1047.94,670.0h4.6V672.5h-4.6ZM1078.74,715.8h4.6V717.5h-4.6ZM1091.06,713.3h4.6V718.7h-4.6ZM1097.22,712.1h4.6V713.4h-4.6ZM1103.38,710.5h4.6V713.3h-4.6ZM1109.54,706.3h4.6V709.7h-4.6Z" fill="#089981"/>
<path d="M25.46,428.7h4.6V511.3h-4.6ZM43.94,372.0h4.6V419.2h-4.6ZM80.89,313.0h4.6V314.2h-4.6ZM87.05,314.2h4.6V323.0h-4.6ZM93.21,323.0h4.6V347.5h-4.6ZM117.85,253.5h4.6V319.8h-4.6ZM124.01,319.5h4.6V427.5h-4.6ZM142.49,250.2h4.6V267.2h-4.6ZM148.65,267.2h4.6V291.8h-4.6ZM160.97,167.9h4.6V266.0h-4.6ZM167.13,266.2h4.6V274.8h-4.6ZM173.29,274.8h4.6V293.4h-4.6ZM185.61,278.8h4.6V296.6h-4.6ZM191.77,296.6h4.6V314.7h-4.6ZM197.93,314.7h4.6V320.0h-4.6ZM204.09,320.0h4.6V329.7h-4.6ZM210.25,329.7h4.6V345.0h-4.6ZM216.40,345.0h4.6V378.7h-4.6ZM228.72,362.5h4.6V372.8h-4.6ZM234.88,372.8h4.6V385.5h-4.6ZM265.68,336.3h4.6V359.7h-4.6ZM278.00,344.2h4.6V346.3h-4.6ZM296.48,301.7h4.6V315.5h-4.6ZM302.64,315.5h4.6V382.8h-4.6ZM314.96,350.8h4.6V360.0h-4.6ZM327.28,350.8h4.6V372.5h-4.6ZM345.76,335.8h4.6V354.5h-4.6ZM364.23,345.0h4.6V374.5h-4.6ZM370.39,374.5h4.6V385.8h-4.6ZM382.71,381.3h4.6V388.8h-4.6ZM395.03,386.3h4.6V390.0h-4.6ZM407.35,386.7h4.6V390.3h-4.6ZM413.51,390.3h4.6V395.8h-4.6ZM438.15,325.3h4.6V345.0h-4.6ZM444.31,345.0h4.6V376.2h-4.6ZM450.47,375.8h4.6V387.5h-4.6ZM468.95,383.0h4.6V385.0h-4.6ZM487.42,352.8h4.6V381.3h-4.6ZM505.90,369.5h4.6V513.8h-4.6ZM524.38,467.5h4.6V473.0h-4.6ZM530.54,472.5h4.6V473.7h-4.6ZM536.70,474.1h4.6V475.4h-4.6ZM561.34,440.5h4.6V450.3h-4.6ZM567.50,450.3h4.6V473.3h-4.6ZM579.82,467.5h4.6V475.0h-4.6ZM585.98,475.0h4.6V531.2h-4.6ZM610.62,499.7h4.6V503.3h-4.6ZM629.09,467.0h4.6V485.0h-4.6ZM641.41,452.5h4.6V493.8h-4.6ZM647.57,493.8h4.6V523.7h-4.6ZM653.73,523.7h4.6V530.5h-4.6ZM666.05,528.0h4.6V531.2h-4.6ZM678.37,527.0h4.6V531.7h-4.6ZM690.69,524.2h4.6V527.5h-4.6ZM727.65,459.2h4.6V483.0h-4.6ZM739.97,471.7h4.6V483.3h-4.6ZM746.13,483.3h4.6V505.8h-4.6ZM758.45,500.8h4.6V525.8h-4.6ZM764.60,525.5h4.6V541.2h-4.6ZM770.76,541.2h4.6V549.2h-4.6ZM783.08,531.7h4.6V539.7h-4.6ZM789.24,539.7h4.6V544.7h-4.6ZM801.56,532.0h4.6V543.0h-4.6ZM813.88,538.0h4.6V543.3h-4.6ZM820.04,543.3h4.6V550.3h-4.6ZM826.20,549.1h4.6V550.4h-4.6ZM832.36,549.8h4.6V551.0h-4.6ZM844.68,545.8h4.6V549.7h-4.6ZM850.84,549.7h4.6V555.8h-4.6ZM869.32,497.0h4.6V500.0h-4.6ZM887.80,492.5h4.6V642.0h-4.6ZM893.96,642.0h4.6V667.8h-4.6ZM918.59,615.5h4.6V616.7h-4.6ZM924.75,616.2h4.6V631.7h-4.6ZM930.91,631.7h4.6V658.7h-4.6ZM943.23,653.3h4.6V658.3h-4.6ZM949.39,658.3h4.6V670.8h-4.6ZM961.71,667.0h4.6V671.3h-4.6ZM967.87,670.0h4.6V671.3h-4.6ZM974.03,671.3h4.6V672.5h-4.6ZM980.19,671.3h4.6V672.5h-4.6ZM986.35,673.0h4.6V676.7h-4.6ZM992.51,676.2h4.6V678.7h-4.6ZM998.67,678.8h4.6V704.7h-4.6ZM1004.83,704.2h4.6V705.8h-4.6ZM1029.47,671.3h4.6V693.7h-4.6ZM1041.78,667.0h4.6V672.5h-4.6ZM1054.10,670.0h4.6V695.0h-4.6ZM1060.26,694.7h4.6V715.5h-4.6ZM1066.42,715.5h4.6V717.2h-4.6ZM1072.58,716.1h4.6V717.4h-4.6ZM1084.90,716.2h4.6V718.7h-4.6Z" fill="#F23645"/>
</g>
<rect x="1336.1" y="33.8" width="73.9" height="29.3" rx="4" fill="#fff" stroke="#2a2e39" stroke-opacity="0.085" stroke-width="1.3"/>
<g transform="translate(1118.05,839.05)">
<circle r="12.25" fill="#fff" stroke="#f0293e" stroke-width="1.9"/>
<clipPath id="fc"><circle r="9.2"/></clipPath>
<g clip-path="url(#fc)">
<rect x="-10" y="-10" width="20" height="20" fill="#fff"/>
<rect x="-10" y="-9.3" width="20" height="3.8" fill="#ec4b45"/>
<rect x="-10" y="-1.8" width="20" height="3.7" fill="#ec4b45"/>
<rect x="-10" y="5.4" width="20" height="3.9" fill="#ec4b45"/>
<rect x="-10" y="-10" width="11.85" height="12.2" fill="#1e88e5"/>
<g fill="#fff" fill-opacity=".92"><circle cx="-3.8" cy="-6.6" r=".7"/><circle cx="-.55" cy="-6.6" r=".7"/><circle cx="-7.05" cy="-3.5" r=".7"/><circle cx="-3.8" cy="-3.5" r=".7"/><circle cx="-.55" cy="-3.5" r=".7"/><circle cx="-7.05" cy="-.35" r=".7"/><circle cx="-3.8" cy="-.35" r=".7"/><circle cx="-.55" cy="-.35" r=".7"/></g>
</g>
</g>

<g fill="#0c0c0c">
<path d="M10.6,901.3H19.75V912.5H14.95V905.85H10.6Z"/>
<circle cx="23.5" cy="903.7" r="2.35"/>
<path d="M28.4,901.3H33.65L29.3,912.5H23.95Z"/>
</g>

</svg>
<div class="x title">
<span style="left:10.62px;top:9.0px;font-size:13.8px;color:#1c1c1c;letter-spacing:0.46px">ChartAnalysis_0</span>
<span style="left:122.21px;top:9.0px;font-size:13.8px;color:#1c1c1c;letter-spacing:0.55px">created</span>
<span style="left:177.02px;top:9.0px;font-size:13.8px;color:#1c1c1c;letter-spacing:0.75px">with</span>
<span style="left:208.25px;top:9.0px;font-size:13.8px;color:#1c1c1c;letter-spacing:0.53px">TradingView.com,</span>
<span style="left:329.12px;top:9.0px;font-size:13.8px;color:#1c1c1c;letter-spacing:0.33px">Jul</span>
<span style="left:352.25px;top:9.0px;font-size:13.8px;color:#1c1c1c;letter-spacing:0.94px">08,</span>
<span style="left:377.76px;top:9.0px;font-size:13.8px;color:#1c1c1c;letter-spacing:0.92px">2025</span>
<span style="left:415.95px;top:9.0px;font-size:13.8px;color:#1c1c1c;letter-spacing:0.18px">11:44</span>
<span style="left:455.14px;top:9.0px;font-size:13.8px;color:#1c1c1c;letter-spacing:-0.09px">UTC+1</span>
</div>
<div class="x legend-main">
<span style="left:19.69px;top:41.0px;font-size:13.7px;color:#1a1a1a;letter-spacing:-0.04px">DeXe · 1D · CRYPTO</span>
<span style="left:160.27px;top:41.0px;font-size:13.7px;color:#1a1a1a;letter-spacing:-0.33px">O</span>
<span style="left:170.13px;top:41.0px;font-size:13.7px;color:#089981;letter-spacing:0.5px">7.6742</span>
<span style="left:222.69px;top:41.0px;font-size:13.7px;color:#1a1a1a;letter-spacing:0.81px">H</span>
<span style="left:233.53px;top:41.0px;font-size:13.7px;color:#089981;letter-spacing:0.38px">7.8242</span>
<span style="left:285.59px;top:41.0px;font-size:13.7px;color:#1a1a1a;letter-spacing:-0.24px">L</span>
<span style="left:293.03px;top:41.0px;font-size:13.7px;color:#089981;letter-spacing:0.64px">7.6407</span>
<span style="left:346.04px;top:41.0px;font-size:13.7px;color:#1a1a1a;letter-spacing:-0.25px">C</span>
<span style="left:355.43px;top:41.0px;font-size:13.7px;color:#089981;letter-spacing:0.48px">7.7762</span>
<span style="left:408.61px;top:41.0px;font-size:13.7px;color:#089981;letter-spacing:0.41px">+0.1022 (+1.33%)</span>
</div>
<div class="x legend-bb">
<span style="left:19.69px;top:61.0px;font-size:13.7px;color:#1a1a1a;letter-spacing:0.46px">BB (20, SMA, close, 2)</span>
<span style="left:176.4px;top:61.0px;font-size:13.7px;color:#2962ff;letter-spacing:1.02px">8.0003</span>
<span style="left:232.36px;top:61.0px;font-size:13.7px;color:#f23645;letter-spacing:0.91px">9.0485</span>
<span style="left:287.44px;top:61.0px;font-size:13.7px;color:#089981;letter-spacing:0.42px">6.9521</span>
</div>
<div class="x legend-ema">
<span style="left:19.69px;top:81.0px;font-size:13.7px;color:#1a1a1a;letter-spacing:0.72px">EMA 20/50/100/200</span>
<span style="left:160.3px;top:81.0px;font-size:13.7px;color:#ff1f1f;letter-spacing:0.34px">8.1223</span>
<span style="left:212.86px;top:81.0px;font-size:13.7px;color:#ff8a1a;letter-spacing:0.54px">9.5749</span>
<span style="left:265.95px;top:81.0px;font-size:13.7px;color:#1be7f7;letter-spacing:0.39px">11.3679</span>
<span style="left:324.35px;top:81.0px;font-size:13.7px;color:#1f1ff2;letter-spacing:0.95px">12.4493</span>
</div>
<div class="x price-axis">
<span style="left:1341.99px;top:827.0px;font-size:13.8px;color:#1a1a1a;letter-spacing:1.11px">4.0000</span>
<span style="left:1341.73px;top:760.0px;font-size:13.8px;color:#1a1a1a;letter-spacing:1.16px">6.0000</span>
<span style="left:1341.79px;top:694.0px;font-size:13.8px;color:#1a1a1a;letter-spacing:1.15px">8.0000</span>
<span style="left:1342.05px;top:627.0px;font-size:13.8px;color:#1a1a1a;letter-spacing:1.11px">10.0000</span>
<span style="left:1342.05px;top:560.0px;font-size:13.8px;color:#1a1a1a;letter-spacing:1.11px">12.0000</span>
<span style="left:1342.05px;top:494.0px;font-size:13.8px;color:#1a1a1a;letter-spacing:1.11px">14.0000</span>
<span style="left:1342.05px;top:427.0px;font-size:13.8px;color:#1a1a1a;letter-spacing:1.11px">16.0000</span>
<span style="left:1342.05px;top:361.0px;font-size:13.8px;color:#1a1a1a;letter-spacing:1.11px">18.0000</span>
<span style="left:1341.76px;top:294.0px;font-size:13.8px;color:#1a1a1a;letter-spacing:1.16px">20.0000</span>
<span style="left:1341.76px;top:227.0px;font-size:13.8px;color:#1a1a1a;letter-spacing:1.16px">22.0000</span>
<span style="left:1341.76px;top:161.0px;font-size:13.8px;color:#1a1a1a;letter-spacing:1.16px">24.0000</span>
<span style="left:1341.76px;top:94.0px;font-size:13.8px;color:#1a1a1a;letter-spacing:1.16px">26.0000</span>
</div>
<div class="x time-axis">
<b style="left:131.4px;top:866.0px;font-size:14.3px;color:#1a1a1a;letter-spacing:0.38px">Feb</b>
<b style="left:303.1px;top:866.0px;font-size:14.3px;color:#1a1a1a;letter-spacing:1.2px">Mar</b>
<b style="left:495.65px;top:866.0px;font-size:14.3px;color:#1a1a1a;letter-spacing:0.01px">Apr</b>
<b style="left:678.1px;top:866.0px;font-size:14.3px;color:#1a1a1a;letter-spacing:1.15px">May</b>
<b style="left:871.31px;top:866.0px;font-size:14.3px;color:#1a1a1a;letter-spacing:0.4px">Jun</b>
<b style="left:1058.41px;top:866.0px;font-size:14.3px;color:#1a1a1a;letter-spacing:0.4px">Jul</b>
<b style="left:1246.45px;top:866.0px;font-size:14.3px;color:#1a1a1a;letter-spacing:0.02px">Aug</b>
</div>
<div class="x currency">
<span style="left:1345.74px;top:42.0px;font-size:13.8px;color:#1a1a1a;letter-spacing:0.58px">USD</span>
</div>
<div class="x brand">
<span style="left:37.94px;top:901.0px;font-size:15.2px;color:#1a1a1a;letter-spacing:0.3px">TradingView</span>
</div>
<svg width="1427" height="927" style="position:absolute;left:0;top:0"><path d="M1333,697H1406.8a2.5,2.5 0 0 1 2.5,2.5V730.8a2.5,2.5 0 0 1 -2.5,2.5H1333a1,1 0 0 1 -1,-1V698a1,1 0 0 1 1,-1Z" fill="#089981"/></svg>
<div class="x last-price">
<span style="left:1341.93px;top:701.0px;font-size:13.8px;color:#ffffff;letter-spacing:1.08px">7.7762</span>
<span style="left:1342.25px;top:717.0px;font-size:13.8px;color:#daf0ec;letter-spacing:0.98px">13:15:58</span>
</div>
</body></html>
